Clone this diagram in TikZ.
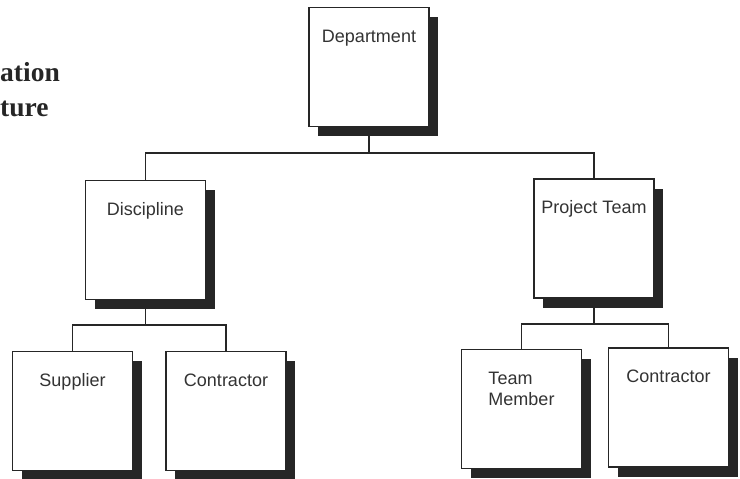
\documentclass[tikz,border=0pt]{standalone}
\usepackage{fontspec}
\setmainfont{Liberation Sans}
\newfontfamily\titlefont{Liberation Serif}
\usetikzlibrary{shadows,backgrounds}

\tikzset{
  unit/.style={draw=black!85, line width=1.6pt, fill=white, inner sep=0pt,
    minimum width=120pt, text height=35pt, text depth=84pt, align=left,
    font=\fontsize{18}{21}\selectfont, text=black!80,
    drop shadow={shadow xshift=9pt, shadow yshift=-10pt, fill=black!85, opacity=1}},
  link/.style={draw=black!85, line width=1.3pt},
  heading/.style={font=\titlefont\bfseries\fontsize{27.5}{33}\selectfont,
    inner sep=0pt, text=black!85, anchor=base west},
}

\begin{document}
\begin{tikzpicture}[x=1pt, y=1pt]

\useasboundingbox (0,0) rectangle (740,479);

%========================
% 見出し(左端で切れている)
%========================
\node[heading] (head1) at (0,397) {ation};
\node[heading] (head2) at (0,362) {ture};

%========================
% 各ボックス
%========================
\node[unit] (dept)   at (369,412)  {Department};
\node[unit] (disc)   at (145.5,239) {Discipline};
\node[unit] (proj)   at (594,240.5) {Project Team};
\node[unit] (supp)   at (72.5,68)  {Supplier};
\node[unit] (contrL) at (226,68)   {Contractor};
% 2行なので最終行の位置で合わせる
\node[unit, text height=56pt, text depth=63pt] (member) at (521.5,70) {Team\\Member};
\node[unit] (contrR) at (668.5,71.5) {Contractor};

% 横線の高さ
\coordinate (topbus) at (0,326);
\coordinate (busL)   at (0,154);
\coordinate (busR)   at (0,155);

%========================
% 接続線(影の後ろ)
%========================
\begin{scope}[on background layer]
  \draw[link] (dept.south) -- (dept.south |- topbus) -| (disc.north);
  \draw[link] (dept.south |- topbus) -| (proj.north);

  \draw[link] (disc.south) -- (disc.south |- busL) -| (supp.north);
  \draw[link] (disc.south |- busL) -| (contrL.north);

  \draw[link] (proj.south) -- (proj.south |- busR) -| (member.north);
  \draw[link] (proj.south |- busR) -| (contrR.north);
\end{scope}

\end{tikzpicture}
\end{document}
